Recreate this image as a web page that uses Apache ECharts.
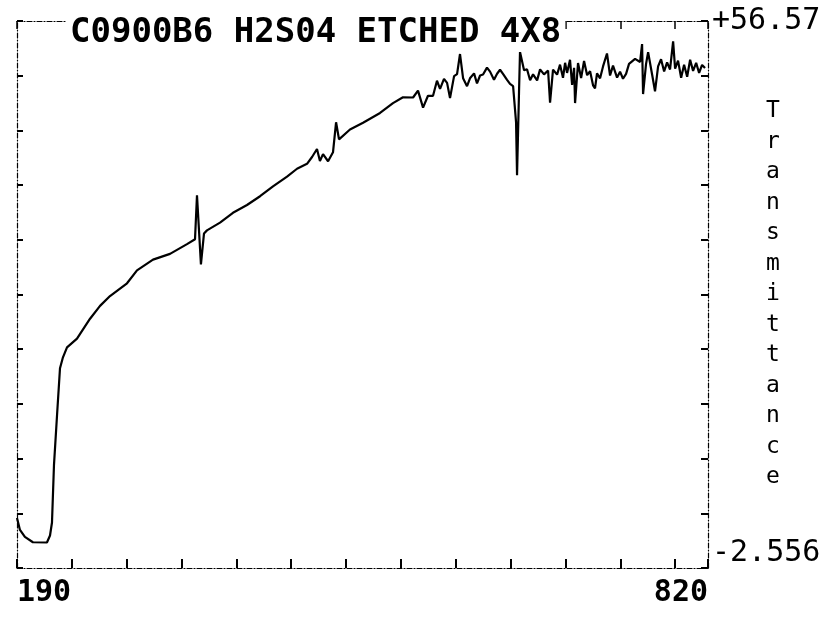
<!DOCTYPE html>
<html>
<head>
<meta charset="utf-8">
<script src="https://cdn.jsdelivr.net/npm/echarts@6/dist/echarts.min.js"></script>
<style>
html,body{margin:0;padding:0;background:#fff;}
#c{width:839px;height:620px;}
</style>
</head>
<body>
<div id="c"></div>
<script>
const chartTitle = 'C0900B6 H2S04 ETCHED 4X8';
const axisName = 'Transmittance';
const xRange = [190, 820];
const xTickStep = 50;
const yRange = [-2.556, 56.57];
const xEndLabels = ['190', '820'];
const yEndLabels = ['-2.556', '+56.57'];

const wavelengths = [
  190.0, 192.7, 197.2, 204.5, 217.3, 220.1, 221.9, 223.7, 226.5, 229.2,
  231.9, 235.6, 244.7, 256.6, 265.7, 274.8, 290.3, 299.4, 314.0, 329.5,
  345.0, 352.3, 354.1, 357.7, 360.5, 363.2, 375.1, 386.9, 399.7, 411.6,
  423.4, 436.2, 445.3, 454.4, 459.0, 463.5, 466.2, 469.0, 473.6, 478.1,
  480.9, 483.6, 493.6, 505.5, 521.0, 532.8, 541.9, 551.1, 555.6, 560.2,
  564.7, 569.3, 572.9, 575.7, 579.3, 582.1, 584.8, 588.5, 591.2, 593.9,
  596.7, 600.3, 603.0, 606.7, 609.4, 612.2, 614.9, 618.5, 621.3, 624.9,
  627.7, 630.4, 633.1, 636.8, 639.5, 642.3, 645.0, 645.9, 647.7, 648.6,
  652.3, 655.0, 657.8, 660.5, 664.2, 666.9, 670.5, 674.2, 676.0, 678.7,
  682.4, 685.1, 687.8, 689.7, 691.5, 694.2, 696.1, 697.9, 698.8, 701.5,
  704.3, 707.0, 709.8, 712.5, 715.2, 717.0, 718.8, 721.6, 724.3, 727.9,
  730.7, 733.4, 737.1, 739.8, 742.5, 745.3, 748.0, 753.5, 758.1, 759.9,
  760.8, 763.5, 765.4, 769.0, 771.7, 774.5, 777.2, 780.0, 782.7, 785.4,
  788.2, 790.0, 792.7, 795.5, 798.2, 801.0, 803.7, 806.4, 809.2, 811.9,
  814.6, 817.3
];
const transmittance = [
  2.86, 1.56, 0.80, 0.23, 0.20, 0.96, 2.36, 8.53, 13.95, 19.03,
  20.22, 21.30, 22.24, 24.39, 25.78, 26.84, 28.22, 29.62, 30.78, 31.40,
  32.45, 32.98, 37.74, 30.27, 33.61, 33.94, 34.78, 35.84, 36.68, 37.63,
  38.69, 39.75, 40.60, 41.13, 41.87, 42.73, 41.43, 42.18, 41.41, 42.38,
  45.62, 43.78, 44.84, 45.58, 46.63, 47.69, 48.32, 48.30, 49.05, 47.20,
  48.49, 48.48, 50.11, 49.24, 50.31, 49.88, 48.24, 50.61, 50.83, 53.00,
  50.39, 49.52, 50.38, 50.91, 49.82, 50.68, 50.78, 51.53, 51.10, 50.22,
  50.87, 51.30, 50.86, 50.20, 49.77, 49.54, 45.64, 39.89, 48.88, 53.21,
  51.25, 51.36, 50.16, 50.81, 50.15, 51.34, 50.80, 51.22, 47.74, 51.32,
  50.77, 51.85, 50.43, 52.05, 50.96, 52.37, 49.66, 51.50, 47.70, 52.03,
  50.40, 52.24, 50.71, 51.14, 49.62, 49.29, 50.91, 50.37, 51.66, 53.06,
  50.68, 51.75, 50.45, 51.09, 50.33, 50.86, 51.94, 52.47, 52.14, 54.08,
  48.67, 51.91, 53.21, 50.82, 48.97, 51.67, 52.43, 51.12, 52.09, 51.33,
  54.36, 51.43, 52.29, 50.44, 51.85, 50.54, 52.38, 51.18, 52.04, 50.95,
  51.82, 51.48
];

const seriesData = wavelengths.map((w, i) => [w, transmittance[i]]);
const mono = "'DejaVu Sans Mono', 'Liberation Mono', monospace";
const frameLine = { show: true, onZero: false, lineStyle: { color: '#000', width: 1.2, type: [5, 2, 1, 2] } };

const chart = echarts.init(document.getElementById('c'), null, { renderer: 'canvas' });
chart.setOption({
  animation: false,
  backgroundColor: '#fff',
  title: {
    text: chartTitle,
    left: 66,
    top: 14,
    padding: [2, 4, 2, 4],
    backgroundColor: '#fff',
    textStyle: { fontFamily: mono, fontSize: 34, fontWeight: 'bold', color: '#000' }
  },
  grid: { left: 17, right: 131, top: 21, bottom: 52, containLabel: false },
  xAxis: [
    {
      type: 'value', position: 'bottom', min: xRange[0], max: xRange[1], interval: xTickStep,
      axisLine: frameLine,
      axisTick: { show: true, inside: true, length: 9, lineStyle: { color: '#000', width: 2 } },
      splitLine: { show: false },
      axisLabel: {
        show: true, margin: 10, color: '#000', fontFamily: mono, fontSize: 30, fontWeight: 'bold',
        showMinLabel: true, showMaxLabel: true, alignMinLabel: 'left', alignMaxLabel: 'right',
        formatter: v => (Math.abs(v - xRange[0]) < 1e-6 ? xEndLabels[0] : (Math.abs(v - xRange[1]) < 1e-6 ? xEndLabels[1] : ''))
      }
    },
    {
      type: 'value', position: 'top', min: xRange[0], max: xRange[1], interval: xTickStep,
      axisLine: frameLine,
      axisTick: { show: true, inside: true, length: 8, lineStyle: { color: '#000', width: 1.5 } },
      splitLine: { show: false },
      axisLabel: { show: false }
    }
  ],
  yAxis: [
    {
      type: 'value', position: 'right', min: yRange[0], max: yRange[1],
      axisLine: frameLine,
      axisTick: { show: false },
      splitLine: { show: false },
      axisLabel: {
        show: true, margin: 4, color: '#000', fontFamily: mono, fontSize: 30,
        showMinLabel: true, showMaxLabel: true, verticalAlignMinLabel: 'bottom',
        formatter: v => (Math.abs(v - yRange[0]) < 1e-6 ? yEndLabels[0] : (Math.abs(v - yRange[1]) < 1e-6 ? yEndLabels[1] : ''))
      },
      name: axisName.split('').join('\n'),
      nameLocation: 'middle',
      nameRotate: 0,
      nameGap: 65,
      nameMoveOverlap: false,
      nameTextStyle: { fontFamily: mono, fontSize: 23, color: '#000', lineHeight: 30.5, align: 'center', padding: [16, 0, 0, 0] }
    },
    {
      type: 'value', position: 'left', min: 0, max: 10, interval: 1,
      axisLine: frameLine,
      axisTick: { show: true, inside: true, length: 6, lineStyle: { color: '#000', width: 2 } },
      splitLine: { show: false },
      axisLabel: { show: false }
    },
    {
      type: 'value', position: 'right', min: 0, max: 10, interval: 1,
      axisLine: { show: false, onZero: false },
      axisTick: { show: true, inside: true, length: 7, lineStyle: { color: '#000', width: 2 } },
      splitLine: { show: false },
      axisLabel: { show: false }
    }
  ],
  series: [
    {
      type: 'line',
      xAxisIndex: 0,
      yAxisIndex: 0,
      data: seriesData,
      showSymbol: false,
      smooth: false,
      lineStyle: { color: '#000', width: 2.2 },
      z: 3
    }
  ]
});
</script>
</body>
</html>
